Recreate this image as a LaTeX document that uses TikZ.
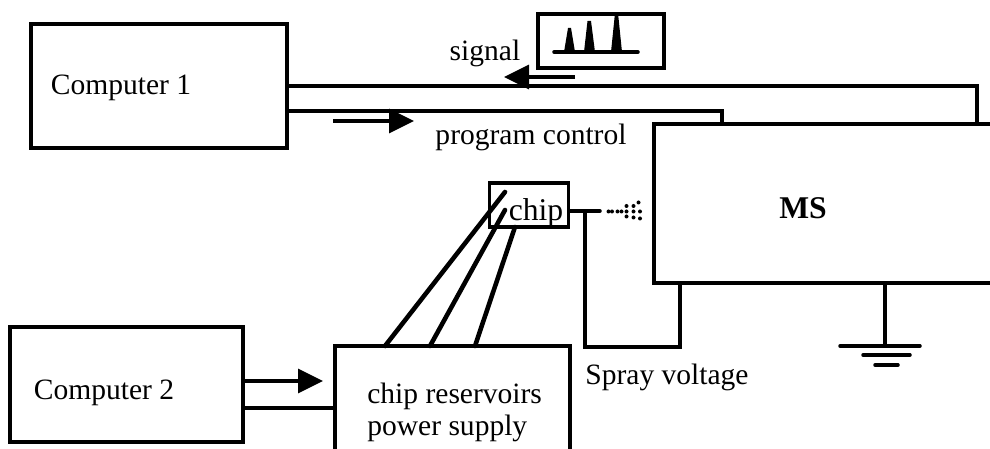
\documentclass[tikz,border=0pt]{standalone}
\usepackage{fontspec}
\setmainfont{Liberation Serif}
\usetikzlibrary{arrows.meta}

\tikzset{
	wire/.style={line width=2pt, line cap=round},
	feed/.style={line width=2.6pt, line cap=round},
	flow/.style={line width=2pt, -{Triangle[length=0.5cm,width=0.48cm]}},
	box/.style={draw, line width=2pt, inner sep=0pt},
	lbl/.style={inner sep=0pt, font=\fontsize{16.8}{19}\selectfont},
	peak/.style={fill=black, line join=round},
	drop/.style={fill=black, inner sep=0pt, minimum size=0.08cm, circle},
}

\begin{document}
\begin{tikzpicture}
	\useasboundingbox (0,0) rectangle (19.8,8.98);
	\clip (0,0) rectangle (19.8,8.98);

	% boxes
	\node [box, minimum width=5.12cm, minimum height=2.48cm] at (3.18,7.26) (computer1) {};
	\node [box, minimum width=4.66cm, minimum height=2.30cm] at (2.53,1.29) (computer2) {};
	\node [box, minimum width=4.71cm, minimum height=2.66cm] at (9.05,0.73) (reservoirs) {};
	\node [box, minimum width=7.52cm, minimum height=3.18cm] at (16.84,4.91) (ms) {};
	\node [box, minimum width=1.58cm, minimum height=0.88cm] at (10.58,4.88) (chip) {};
	\node [box, minimum width=2.52cm, minimum height=1.08cm] at (12.02,8.16) (trace) {};

	% labels
	\node [lbl] at (2.42,7.22) (computer1text) {Computer 1};
	\node [lbl] at (2.08,1.12) (computer2text) {Computer 2};
	\node [lbl] at (9.70,7.92) (signaltext) {signal};
	\node [lbl] at (10.62,6.24) (programtext) {program control};
	\node [lbl] at (13.34,1.44) (spraytext) {Spray voltage};
	\node [lbl, anchor=west] at (7.34,1.06) (reservoirtext) {chip reservoirs};
	\node [lbl, anchor=west] at (7.34,0.42) (supplytext) {power supply};
	\node [lbl, font=\fontsize{18}{20}\selectfont] at (10.72,4.72) (chiptext) {chip};
	\node [lbl, font=\fontsize{18}{20}\selectfont\bfseries] at (16.06,4.82) (mstext) {MS};

	% computer 1 to MS
	\coordinate (upperend) at (19.54,7.26);
	\coordinate (lowerend) at (14.44,6.76);
	\draw [wire] (computer1.east |- upperend) -- (upperend) -- (upperend |- ms.north);
	\draw [wire] (computer1.east |- lowerend) -- (lowerend) -- (lowerend |- ms.north);

	% arrows
	\coordinate (signalstart) at (11.5,7.44);
	\coordinate (signalend) at (10.08,7.44);
	\coordinate (programstart) at (6.66,6.56);
	\coordinate (programend) at (8.28,6.56);
	\coordinate (c2arrow) at (6.46,1.36);
	\coordinate (c2line) at (4.84,0.82);
	\draw [flow] (signalstart) -- (signalend);
	\draw [flow] (programstart) -- (programend);
	\draw [flow] (computer2.east |- c2arrow) -- (c2arrow);
	\draw [wire] (computer2.east |- c2line) -- (reservoirs.west |- c2line);

	% chip feeds
	\coordinate (feed1) at (7.70,2.06);
	\coordinate (feed2) at (8.60,2.06);
	\coordinate (feed3) at (9.50,2.06);
	\coordinate (chipin1) at (10.10,5.14);
	\coordinate (chipin2) at (10.10,4.78);
	\coordinate (chipin3) at (10.30,4.44);
	\draw [feed] (feed1) -- (chipin1);
	\draw [feed] (feed2) -- (chipin2);
	\draw [feed] (feed3) -- (chipin3);

	% spray and voltage
	\coordinate (tipend) at (12.0,4.76);
	\coordinate (tjoin) at (11.7,4.76);
	\coordinate (lowcorner) at (11.7,2.04);
	\coordinate (mscorner) at (13.6,2.04);
	\draw [wire] (chip.east |- tipend) -- (tipend);
	\draw [wire] (tjoin) -- (lowcorner) -- (mscorner) -- (mscorner |- ms.south);
	\foreach \x/\y in {12.17/4.75, 12.24/4.75, 12.35/4.75, 12.43/4.75, 12.53/4.75, 12.53/4.86, 12.53/4.65,
		12.67/4.75, 12.67/4.86, 12.67/4.63, 12.77/4.93, 12.8/4.75, 12.8/4.61}
		\node [drop] at (\x,\y) {};

	% ground
	\coordinate (gnd) at (17.7,2.06);
	\draw [wire] (gnd |- ms.south) -- (gnd);
	\draw [wire] (16.8,2.06) -- (18.4,2.06);
	\draw [wire] (17.26,1.88) -- (18.2,1.88);
	\draw [wire] (17.5,1.68) -- (17.96,1.68);

	% trace in the small box
	\coordinate (tracebase) at (11.08,7.94);
	\draw [wire] (tracebase) -- (12.76,7.94);
	\fill [peak] (11.28,7.94) -- (11.36,8.42) -- (11.42,8.42) -- (11.5,7.94) -- cycle;
	\fill [peak] (11.68,7.94) -- (11.75,8.56) -- (11.82,8.56) -- (11.9,7.94) -- cycle;
	\fill [peak] (12.22,7.94) -- (12.3,8.72) -- (12.36,8.72) -- (12.44,7.94) -- cycle;
\end{tikzpicture}
\end{document}
